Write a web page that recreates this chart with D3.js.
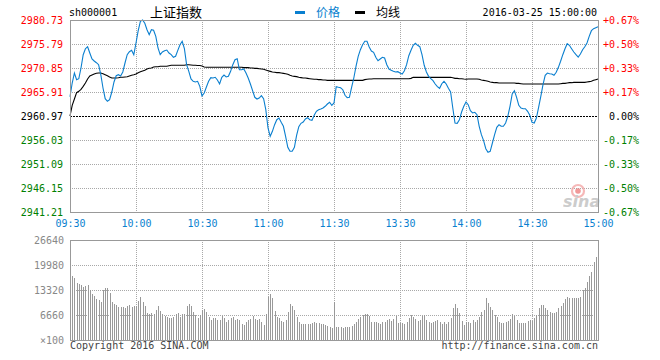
<!DOCTYPE html>
<html><head><meta charset="utf-8">
<script src="https://cdn.jsdelivr.net/npm/d3@7"></script>
<style>
html,body{margin:0;padding:0;background:#fff;}
svg{display:block;}
text{font-family:"DejaVu Sans Mono","Liberation Mono",monospace;font-size:10px;}
</style></head><body>
<svg id="c" width="660" height="360"></svg>
<script>
const timeLabels = ["09:30","10:00","10:30","11:00","11:30","13:30","14:00","14:30","15:00"];
const priceTicks = [2980.73,2975.79,2970.85,2965.91,2960.97,2956.03,2951.09,2946.15,2941.21];
const pctTicks = ["+0.67%","+0.50%","+0.33%","+0.17%","0.00%","-0.17%","-0.33%","-0.50%","-0.67%"];
const volTicks = [26640,19980,13320,6660,0];
const volTickLabels = ["26640","19980","13320","6660","\u00d7100"];
const preClose = 2960.97;

const price = [
2964.94,2967.76,2969.82,2968.44,2968.65,2970.85,2973.59,2974.82,2975.23,2973.94,
2972.70,2972.29,2971.94,2971.53,2969.47,2966.73,2964.53,2964.00,2964.32,2965.91,
2967.97,2969.26,2969.47,2969.20,2970.03,2971.88,2973.59,2974.20,2974.49,2973.59,
2976.00,2978.53,2980.46,2980.73,2980.05,2978.73,2977.70,2978.73,2978.61,2977.37,
2974.97,2973.59,2974.14,2974.41,2974.55,2973.94,2973.59,2973.05,2973.26,2974.49,
2975.65,2976.35,2974.82,2971.53,2970.17,2968.59,2968.11,2967.97,2968.11,2967.08,
2965.09,2965.70,2966.94,2968.11,2968.85,2968.79,2968.94,2968.38,2967.56,2968.94,
2969.41,2969.00,2969.14,2970.17,2971.53,2972.56,2972.76,2970.50,2970.50,2970.64,
2969.82,2968.79,2967.56,2966.18,2964.82,2964.47,2964.67,2965.15,2964.53,2962.27,
2958.50,2956.79,2957.82,2959.18,2960.21,2960.56,2959.67,2958.85,2956.79,2954.53,
2953.70,2953.70,2954.53,2957.00,2958.77,2959.47,2959.74,2960.35,2960.62,2960.21,
2960.08,2961.11,2961.94,2962.27,2962.41,2962.62,2962.97,2963.44,2963.79,2963.17,
2963.65,2967.00,2966.88,2966.79,2966.38,2965.23,2964.74,2964.82,2966.88,2968.79,
2971.20,2973.26,2974.62,2975.65,2976.35,2976.35,2975.17,2974.35,2974.08,2973.05,
2972.35,2972.70,2973.05,2972.91,2971.53,2970.64,2970.38,2970.17,2970.03,2970.09,
2969.82,2969.61,2970.29,2971.53,2973.38,2974.49,2975.52,2975.93,2975.52,2975.23,
2973.59,2971.41,2970.03,2969.14,2968.65,2968.24,2967.56,2967.00,2966.67,2967.62,
2968.11,2967.56,2966.67,2965.91,2962.62,2959.53,2959.47,2960.21,2961.79,2962.97,
2963.85,2963.30,2962.06,2961.59,2961.73,2961.24,2958.85,2957.12,2955.89,2954.24,
2953.50,2953.70,2955.41,2957.12,2958.64,2959.18,2958.85,2958.85,2959.53,2960.91,
2962.97,2965.50,2966.18,2964.82,2963.17,2962.62,2962.47,2962.47,2961.94,2961.11,
2959.67,2959.53,2960.56,2962.76,2965.02,2967.41,2969.35,2969.82,2969.68,2969.61,
2969.35,2969.96,2970.99,2972.23,2973.59,2974.82,2975.85,2975.52,2974.82,2974.14,
2973.59,2973.11,2973.73,2974.62,2975.23,2976.00,2977.37,2978.53,2978.94,2979.14,2979.35
];

const avg = [
2960.97,2963.17,2964.47,2965.77,2966.05,2966.46,2967.08,2967.76,2968.59,2969.20,
2969.41,2969.61,2969.76,2969.82,2969.82,2969.68,2969.47,2969.26,2969.00,2968.79,
2968.79,2968.79,2968.85,2968.94,2968.94,2969.00,2969.06,2969.20,2969.35,2969.47,
2969.61,2969.88,2970.09,2970.23,2970.38,2970.64,2970.79,2970.85,2971.06,2971.12,
2971.12,2971.20,2971.20,2971.20,2971.20,2971.32,2971.41,2971.41,2971.41,2971.41,
2971.41,2971.41,2971.41,2971.53,2971.53,2971.47,2971.41,2971.41,2971.38,2971.35,
2971.26,2971.06,2970.99,2970.99,2970.99,2970.99,2970.99,2970.99,2970.99,2970.99,
2970.99,2970.99,2970.99,2970.99,2970.99,2970.99,2970.99,2970.99,2970.99,2970.92,
2970.92,2970.92,2970.85,2970.85,2970.78,2970.78,2970.71,2970.64,2970.58,2970.44,
2970.30,2970.16,2970.03,2969.96,2969.89,2969.89,2969.82,2969.75,2969.68,2969.55,
2969.34,2969.20,2969.13,2969.07,2968.93,2968.86,2968.79,2968.79,2968.72,2968.65,
2968.59,2968.52,2968.52,2968.45,2968.45,2968.38,2968.38,2968.31,2968.31,2968.31,
2968.31,2968.31,2968.31,2968.31,2968.31,2968.31,2968.31,2968.31,2968.31,2968.31,
2968.31,2968.31,2968.31,2968.31,2968.45,2968.52,2968.59,2968.59,2968.65,2968.65,
2968.65,2968.65,2968.65,2968.65,2968.65,2968.65,2968.65,2968.65,2968.65,2968.65,
2968.65,2968.65,2968.65,2968.65,2968.65,2968.72,2968.93,2968.93,2968.93,2968.93,
2968.93,2968.93,2968.93,2968.93,2968.93,2968.93,2968.93,2968.93,2968.93,2968.93,
2968.93,2968.93,2968.93,2968.93,2968.86,2968.72,2968.72,2968.65,2968.65,2968.59,
2968.55,2968.59,2968.59,2968.59,2968.59,2968.59,2968.52,2968.38,2968.31,2968.24,
2968.11,2967.97,2967.90,2967.83,2967.83,2967.76,2967.76,2967.76,2967.76,2967.76,
2967.76,2967.76,2967.76,2967.69,2967.69,2967.62,2967.56,2967.56,2967.56,2967.56,
2967.56,2967.56,2967.56,2967.56,2967.56,2967.56,2967.56,2967.56,2967.56,2967.56,
2967.56,2967.56,2967.56,2967.62,2967.69,2967.69,2967.76,2967.83,2967.83,2967.90,
2967.90,2967.90,2967.90,2967.90,2967.90,2967.97,2968.04,2968.11,2968.31,2968.45,2968.59
];

const volume = [
17760,17140,16610,15270,15010,14650,14210,14470,14650,13320,
12250,11720,10920,10660,10030,13320,13940,13760,12430,10210,
9590,9320,8880,8880,8700,8440,9150,9320,8880,8970,
9060,10390,11540,10210,9150,7100,6840,7100,6840,7990,
9060,7730,6840,6480,6220,5950,5950,6220,6840,7100,
6220,6840,6840,9060,9590,9060,7370,6660,5950,6660,
7990,8260,7370,6220,5420,5770,5770,5330,5330,6480,
5950,4880,5330,5770,6220,5330,5590,5330,4170,4000,
4880,5330,5590,6480,5590,5330,5510,4710,4000,6840,
11540,12170,11280,7730,6220,5770,5150,4880,5330,7370,
9590,9060,7990,6220,4880,4260,4170,4260,4170,4350,
4440,4710,4530,4440,4260,4260,4000,3730,3370,3290,
10210,3550,3550,3550,3290,3550,3370,3460,3730,4170,
4880,5510,6130,6660,6840,6840,6480,4880,4880,4710,
4440,4350,4710,4880,5330,5590,5060,5590,6480,4440,
4440,4620,4260,4880,5770,6660,6220,5590,5150,5330,
6310,6660,5330,4710,4440,4710,5060,5330,4710,4350,
4880,4260,4880,5770,8440,9590,8440,7280,5150,4000,
4880,4880,4440,5240,4800,5330,6220,7370,7990,11100,
9770,8790,7900,6660,6130,4880,4620,4440,4710,5060,
5590,6820,6480,5420,4620,4440,4440,4530,5060,5330,
5150,5770,6660,8440,9320,9320,8440,7900,7550,7280,
7100,7550,8440,9150,9950,10920,11370,11280,11280,11280,
11100,11280,11540,13320,13940,15540,17050,18200,20870,22200,23710
];

const svg = d3.select("#c");
const L = 70, R = 598, T = 20, B = 212, VT = 240, VB = 340;
const gridColor = "#a8a8a8", frameColor = "#999999";
const blue = "#0a7fcf";

const x = d3.scaleLinear().domain([0, 240]).range([L, R]);
const y = d3.scaleLinear().domain([priceTicks[priceTicks.length-1], priceTicks[0]]).range([B, T]);
const yv = d3.scaleLinear().domain([0, volTicks[0]]).range([VB, VT]);
const timeIdx = timeLabels.map((d, i) => i * 30);

function colorFor(v){ return Math.abs(v - preClose) < 0.001 ? "#000" : (v > preClose ? "#ff0000" : "#008000"); }

// ---- price panel grid ----
const g = svg.append("g");
g.selectAll("line.hg").data(priceTicks.filter(v => Math.abs(v-preClose) > 0.001 && v !== priceTicks[0] && v !== priceTicks[priceTicks.length-1]))
  .join("line").attr("x1", L).attr("x2", R)
  .attr("y1", d => Math.round(y(d)) + 0.5).attr("y2", d => Math.round(y(d)) + 0.5)
  .attr("stroke", gridColor).attr("stroke-dasharray", "1,1");
g.selectAll("line.vg").data(timeIdx.slice(1, -1)).join("line")
  .attr("x1", d => Math.round(x(d)) + 0.5).attr("x2", d => Math.round(x(d)) + 0.5)
  .attr("y1", T).attr("y2", B).attr("stroke", gridColor).attr("stroke-dasharray", "1,1");
g.append("line").attr("x1", L).attr("x2", R)
  .attr("y1", Math.round(y(preClose)) + 0.5).attr("y2", Math.round(y(preClose)) + 0.5)
  .attr("stroke", "#000").attr("stroke-dasharray", "2,1");

// ---- lines ----
const line = d3.line().x((d, i) => x(i)).y(d => y(d));
g.append("path").datum(avg).attr("d", line).attr("fill", "none").attr("stroke", "#000").attr("stroke-width", 1.1);
g.append("path").datum(price).attr("d", line).attr("fill", "none").attr("stroke", blue).attr("stroke-width", 1.1);

// watermark
const wm = svg.append("g").attr("opacity", 0.8);
wm.append("circle").attr("cx", 578).attr("cy", 191).attr("r", 6).attr("fill", "none").attr("stroke", "#f4a7a7").attr("stroke-width", 2.2);
wm.append("circle").attr("cx", 578).attr("cy", 191).attr("r", 2.8).attr("fill", "#ee8080");
wm.append("text").attr("x", 563).attr("y", 207).text("sina")
  .style("font-family", "DejaVu Sans").style("font-size", "16px").style("font-weight", "bold").style("font-style", "italic").attr("fill", "#c0c0c0");

// frame
svg.append("rect").attr("x", L + 0.5).attr("y", T + 0.5).attr("width", R - L).attr("height", B - T)
  .attr("fill", "none").attr("stroke", frameColor);

// ---- axes (labels) ----
const ax1 = svg.append("g").attr("transform", `translate(${L},0)`)
  .call(d3.axisLeft(y).tickValues(priceTicks).tickSize(0).tickPadding(7).tickFormat(d3.format(".2f")));
ax1.select(".domain").remove();
ax1.selectAll("text").attr("fill", d => colorFor(d)).style("font-family", "DejaVu Sans Mono").style("font-size", "10px");

const ax2 = svg.append("g").attr("transform", `translate(${R},0)`)
  .call(d3.axisRight(y).tickValues(priceTicks).tickSize(0).tickPadding(41).tickFormat((d, i) => pctTicks[i]));
ax2.select(".domain").remove();
ax2.selectAll("text").attr("text-anchor", "end").attr("fill", d => colorFor(d)).style("font-family", "DejaVu Sans Mono").style("font-size", "10px");

const ax3 = svg.append("g").attr("transform", `translate(0,${B})`)
  .call(d3.axisBottom(x).tickValues(timeIdx).tickSize(0).tickPadding(8).tickFormat((d, i) => timeLabels[i]));
ax3.select(".domain").remove();
ax3.selectAll("text").attr("fill", "#0a7fcf").style("font-family", "DejaVu Sans Mono").style("font-size", "10px");

// ---- volume panel ----
const vg = svg.append("g");
vg.selectAll("line.hg").data(volTicks.slice(1, -1)).join("line")
  .attr("x1", L).attr("x2", R)
  .attr("y1", d => Math.round(yv(d)) + 0.5).attr("y2", d => Math.round(yv(d)) + 0.5)
  .attr("stroke", gridColor).attr("stroke-dasharray", "1,1");
vg.selectAll("line.vg").data(timeIdx.slice(1, -1)).join("line")
  .attr("x1", d => Math.round(x(d)) + 0.5).attr("x2", d => Math.round(x(d)) + 0.5)
  .attr("y1", VT).attr("y2", VB).attr("stroke", gridColor).attr("stroke-dasharray", "1,1");
vg.selectAll("rect.bar").data(volume).join("rect")
  .attr("x", (d, i) => Math.round(x(i)))
  .attr("width", 1)
  .attr("y", d => Math.round(yv(d)))
  .attr("height", d => VB - Math.round(yv(d)))
  .attr("fill", "#999999");
svg.append("rect").attr("x", L + 0.5).attr("y", VT + 0.5).attr("width", R - L).attr("height", VB - VT)
  .attr("fill", "none").attr("stroke", frameColor);

const ax4 = svg.append("g").attr("transform", `translate(${L},0)`)
  .call(d3.axisLeft(yv).tickValues(volTicks).tickSize(0).tickPadding(6).tickFormat((d, i) => volTickLabels[i]));
ax4.select(".domain").remove();
ax4.selectAll("text").attr("fill", "#888888").style("font-family", "DejaVu Sans Mono").style("font-size", "10px");

// ---- header texts ----
svg.append("text").attr("x", 69).attr("y", 16).attr("fill", "#000").text("sh000001");
svg.append("text").attr("x", 150).attr("y", 17).attr("fill", "#000")
  .style("font-family", "Noto Sans CJK SC").style("font-size", "13px").text("上证指数");
svg.append("rect").attr("x", 295).attr("y", 11).attr("width", 10).attr("height", 3).attr("fill", blue);
svg.append("text").attr("x", 316).attr("y", 16.5).attr("fill", blue)
  .style("font-family", "Noto Sans CJK SC").style("font-size", "12px").text("价格");
svg.append("rect").attr("x", 355).attr("y", 11).attr("width", 10).attr("height", 3).attr("fill", "#000");
svg.append("text").attr("x", 376).attr("y", 16.5).attr("fill", "#000")
  .style("font-family", "Noto Sans CJK SC").style("font-size", "12px").text("均线");
svg.append("text").attr("x", 597).attr("y", 16).attr("text-anchor", "end").attr("fill", "#000").text("2016-03-25 15:00:00");

// ---- footer ----
svg.append("text").attr("x", 70).attr("y", 349).attr("fill", "#444").text("Copyright 2016 SINA.COM");
svg.append("text").attr("x", 598).attr("y", 349).attr("text-anchor", "end").attr("fill", "#444").text("http://finance.sina.com.cn");
</script>
</body></html>
